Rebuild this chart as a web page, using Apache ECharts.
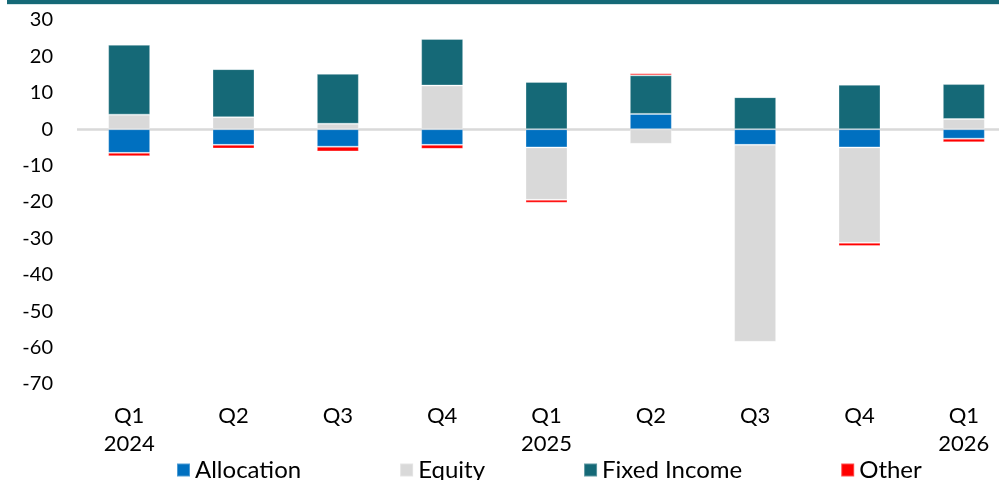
<!DOCTYPE html>
<html>
<head>
<meta charset="utf-8">
<script src="https://cdn.jsdelivr.net/npm/echarts@6/dist/echarts.min.js"></script>
<style>
  html, body { margin: 0; padding: 0; background: #fff; }
  #chart { width: 999px; height: 480px; }
</style>
</head>
<body>
<div id="chart"></div>
<script>
const categories = ['Q1\n2024', 'Q2', 'Q3', 'Q4', 'Q1\n2025', 'Q2', 'Q3', 'Q4', 'Q1\n2026']
const allocation = [-6.5, -4.3, -4.8, -4.3, -5.0, 4.2, -4.3, -5.0, -2.6]
const equity = [4.0, 3.3, 1.5, 12.0, -14.4, -4.0, -54.1, -26.2, 2.8]
const fixedIncome = [19.2, 13.2, 13.7, 12.8, 13.0, 10.6, 8.8, 12.2, 9.6]
const other = [-0.9, -1.0, -1.3, -1.1, -0.8, 0.6, 0.1, -0.9, -1.0]

const font = 'Lato, "DejaVu Sans", sans-serif'

const bar = (name, data, color) => ({
  name: name,
  type: 'bar',
  stack: 'total',
  barWidth: 42,
  data: data,
  itemStyle: {
    color: color,
    borderColor: 'rgba(255,255,255,0.3)',
    borderWidth: 1
  }
})

const series = [
  bar('Allocation', allocation, '#0070C0'),
  bar('Equity', equity, '#D9D9D9'),
  bar('Fixed Income', fixedIncome, '#156977'),
  bar('Other', other, '#FF0000')
]
// zero line
series[0].markLine = {
  silent: true,
  symbol: 'none',
  label: { show: false },
  lineStyle: { color: '#D9D9D9', width: 2.5, type: 'solid' },
  data: [{ yAxis: 0 }],
  z: 0
}

const option = {
  animation: false,
  textStyle: { fontFamily: font },
  graphic: [
    { type: 'rect', shape: { x: 7, y: 0, width: 992, height: 4 }, style: { fill: '#156977' } },
    { type: 'rect', shape: { x: 7, y: 4, width: 992, height: 1 }, style: { fill: '#D6E6E8' } }
  ],
  grid: {
    left: 77,
    width: 939,
    top: 20,
    bottom: 96,
    outerBoundsMode: 'none'
  },
  legend: {
    left: 176,
    top: 458,
    padding: 0,
    itemWidth: 13,
    itemHeight: 13,
    itemGap: 98,
    icon: 'rect',
    textStyle: { fontFamily: font, fontSize: 24, color: '#000' },
    data: ['Allocation', 'Equity', 'Fixed Income', 'Other']
  },
  xAxis: {
    type: 'category',
    data: categories,
    axisLine: { show: false, onZero: false },
    axisTick: { show: false },
    axisLabel: {
      margin: 18,
      fontFamily: font,
      fontSize: 22,
      lineHeight: 28,
      color: '#000',
      verticalAlign: 'top'
    }
  },
  yAxis: {
    type: 'value',
    min: -70,
    max: 30,
    interval: 10,
    splitLine: { show: false },
    axisLine: { show: false },
    axisTick: { show: false },
    axisLabel: {
      margin: 24,
      fontFamily: font,
      fontSize: 20,
      color: '#000'
    }
  },
  series: series
}

const chart = echarts.init(document.getElementById('chart'))
chart.setOption(option)
</script>
</body>
</html>
